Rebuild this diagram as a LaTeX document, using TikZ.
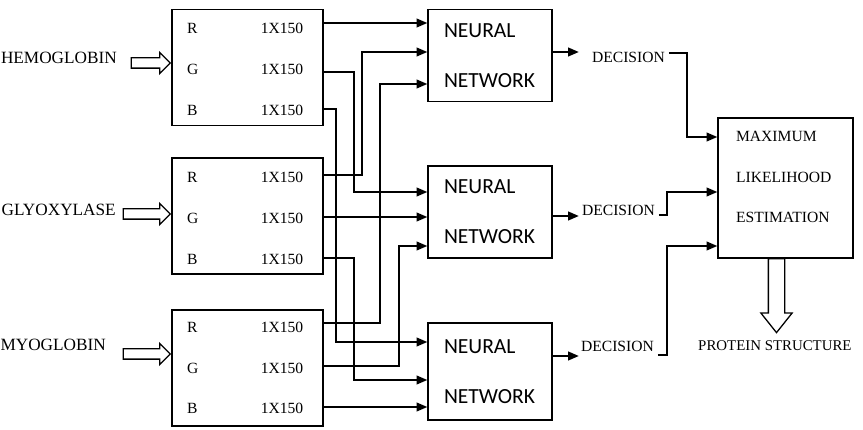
\documentclass[tikz,border=0pt]{standalone}
\usepackage{fontspec}
\setmainfont{Liberation Serif}
\newfontfamily\nnfont{Carlito}
\usetikzlibrary{calc,shapes,positioning}
\usetikzlibrary{arrows.meta}
\tikzset{>={Triangle[length=9pt,width=7.5pt]}}

\begin{document}
\begin{tikzpicture}[x=0.03cm,y=-0.03cm,font=\fontsize{13.3}{16}\selectfont]
        \useasboundingbox (0,0) rectangle (863,430);
        \tikzstyle{inbox} = [draw, line width=1.3pt, minimum width=4.53cm, minimum height=3.48cm, inner sep=0pt]
        \tikzstyle{chan} = [anchor=west, text width=3.48cm, inner sep=0pt]
        \tikzstyle{nnbox} = [draw, line width=1.3pt, minimum width=3.72cm, minimum height=2.75cm,
          text width=2.76cm, inner xsep=0.48cm, align=left, font=\nnfont\fontsize{18.4}{42.5}\selectfont]
        \tikzstyle{molname} = [anchor=east, inner sep=0pt, font=\fontsize{14.7}{17}\selectfont]
        \tikzstyle{hollow} = [draw, line width=1.1pt, single arrow, single arrow head extend=0.165cm,
          inner xsep=0pt, inner ysep=0.135cm, minimum width=0pt]
        \tikzstyle{wire} = [->, line width=1.1pt]

        % colour channels of the three proteins
        \node[inbox] (hemo) at (247.5,67.5) {};
        \node[inbox] (glyo) at (247.5,216) {};
        \node[inbox] (myo) at (247.5,368) {};
        \node[chan] (hemoRt) at (187,28) {R\hfill 1X150};
        \node[chan] (hemoGt) at (187,69) {G\hfill 1X150};
        \node[chan] (hemoBt) at (187,110) {B\hfill 1X150};
        \node[chan] (glyoRt) at (187,177) {R\hfill 1X150};
        \node[chan] (glyoGt) at (187,218) {G\hfill 1X150};
        \node[chan] (glyoBt) at (187,259) {B\hfill 1X150};
        \node[chan] (myoRt) at (187,327) {R\hfill 1X150};
        \node[chan] (myoGt) at (187,368) {G\hfill 1X150};
        \node[chan] (myoBt) at (187,408) {B\hfill 1X150};

        \node[molname] (hemoname) at (117,57.5) {HEMOGLOBIN};
        \node[molname] (glyoname) at (116,210) {GLYOXYLASE};
        \node[molname] (myoname) at (106,345) {MYOGLOBIN};
        \node[hollow, minimum height=1.17cm, anchor=tip] (hemoin) at (hemo.west |- 0,63) {};
        \node[hollow, minimum height=1.41cm, anchor=tip] (glyoin) at (glyo.west |- 0,214) {};
        \node[hollow, minimum height=1.41cm, anchor=tip] (myoin) at (myo.west |- 0,354) {};

        \node[nnbox] (nn1) at (490,55.5) {NEURAL\\NETWORK};
        \node[nnbox] (nn2) at (490,212) {NEURAL\\NETWORK};
        \node[nnbox, minimum height=2.91cm] (nn3) at (490,371.5) {NEURAL\\NETWORK};

        \node[anchor=west] (dec1) at (588,57) {DECISION};
        \node[anchor=west] (dec2) at (578,210) {DECISION};
        \node[anchor=west] (dec3) at (577,346) {DECISION};

        \node[draw, line width=1.3pt, minimum width=4.05cm, minimum height=4.2cm] (mle) at (785.5,188) {};
        \node[anchor=west, align=left, font=\fontsize{13.3}{34.9}\selectfont] (mletext) at (732,177)
          {MAXIMUM\\LIKELIHOOD\\ESTIMATION};
        \node[hollow, rotate=-90, anchor=tail, minimum height=2.22cm, inner ysep=0.225cm,
          single arrow head extend=0.225cm, single arrow tip angle=77] (outarr) at (776.5,258) {};
        \node[anchor=west, inner sep=0pt, font=\fontsize{12.7}{15}\selectfont] (protein) at (698,346) {PROTEIN STRUCTURE};

        \coordinate (hemoR) at (323,23);
        \coordinate (hemoG) at (323,72);
        \coordinate (hemoB) at (323,109);
        \coordinate (glyoR) at (323,175);
        \coordinate (glyoG) at (323,217);
        \coordinate (glyoB) at (323,258);
        \coordinate (myoR) at (323,323);
        \coordinate (myoG) at (323,366);
        \coordinate (myoB) at (323,407);

        \draw[wire] (hemoR) -- (nn1.west |- hemoR);
        \draw[wire] (hemoG) -| (354,192) -- (nn2.west |- 0,192);
        \draw[wire] (hemoB) -| (336,342) -- (nn3.west |- 0,342);
        \draw[wire] (glyoR) -| (362,52) -- (nn1.west |- 0,52);
        \draw[wire] (glyoG) -- (nn2.west |- glyoG);
        \draw[wire] (glyoB) -| (354,380) -- (nn3.west |- 0,380);
        \draw[wire] (myoR) -| (380,84) -- (nn1.west |- 0,84);
        \draw[wire] (myoG) -| (399,246) -- (nn2.west |- 0,246);
        \draw[wire] (myoB) -- (nn3.west |- myoB);

        \draw[wire] (nn1.east |- 0,52) -- ++(26,0);
        \draw[wire] (nn2.east |- 0,216) -- ++(26,0);
        \draw[wire] (nn3.east |- 0,356) -- ++(26,0);

        \draw[wire] (dec1.east |- 0,53) -| (687,137) -- (mle.west |- 0,137);
        \draw[wire] (dec2.east |- 0,215) -| (667,192) -- (mle.west |- 0,192);
        \draw[wire] (dec3.east |- 0,355) -| (667,246) -- (mle.west |- 0,246);
\end{tikzpicture}
\end{document}
